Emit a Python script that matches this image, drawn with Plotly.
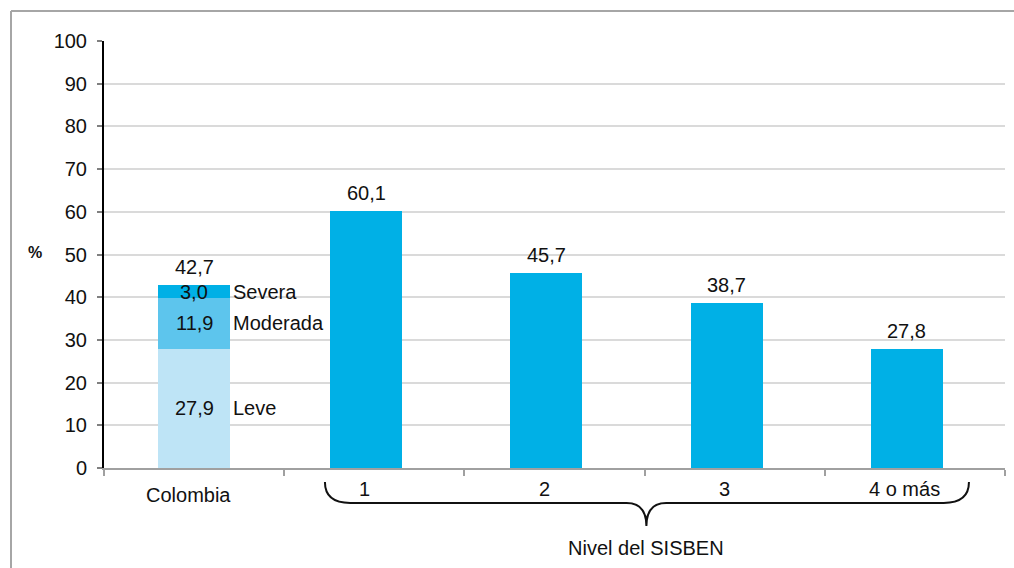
import plotly.graph_objects as go

# ---------------- data ----------------
categories = ["Colombia", "1", "2", "3", "4 o más"]
severity_names = ["Leve", "Moderada", "Severa"]
severity_values = [27.9, 11.9, 3.0]
colombia_total = 42.7
sisben_levels = ["1", "2", "3", "4 o más"]
sisben_values = [60.1, 45.7, 38.7, 27.8]
group_label = "Nivel del SISBEN"
y_ticks = [0, 10, 20, 30, 40, 50, 60, 70, 80, 90, 100]

# ---------------- style ----------------
W, H = 1014, 568
ML, MR, MT, MB = 104, 9, 41, 100
PW, PH = W - ML - MR, H - MT - MB
FONT = "Liberation Sans, Arial, sans-serif"
FS = 20
severity_colors = ["#BEE4F6", "#5DC5ED", "#00B0E6"]
main_color = "#00B0E6"
BAR_W = 0.4
MAIN_SHIFT = -0.045  # in category units


def fmt(v):
    return f"{v:.1f}".replace(".", ",")


def pxx(px):
    return (px - ML) / PW


def pxy(py):
    return (H - MB - py) / PH


def cat_x(i):
    return (i + 0.5) / len(categories)


def val_y(v):
    return v / 100.0


fig = go.Figure()

for name, val, col in zip(severity_names, severity_values, severity_colors):
    fig.add_trace(go.Bar(x=["Colombia"], y=[val], name=name, marker_color=col,
                         marker_line_width=0, width=BAR_W, offset=-BAR_W / 2,
                         hoverinfo="skip"))

fig.add_trace(go.Bar(x=sisben_levels, y=sisben_values, marker_color=main_color,
                     marker_line_width=0, width=BAR_W,
                     offset=-BAR_W / 2 + MAIN_SHIFT, hoverinfo="skip"))

annotations = []
cum = 0
for name, val in zip(severity_names, severity_values):
    mid = cum + val / 2
    cum += val
    annotations.append(dict(x="Colombia", y=mid, xref="x", yref="y", text=fmt(val),
                            showarrow=False, font=dict(size=FS, color="#111")))
    annotations.append(dict(x="Colombia", y=mid, xref="x", yref="y", text=name,
                            xanchor="left", xshift=37, showarrow=False,
                            font=dict(size=FS, color="#111")))
annotations.append(dict(x="Colombia", y=cum, xref="x", yref="y", text=fmt(colombia_total),
                        showarrow=False, yshift=18, font=dict(size=FS, color="#111")))
shift_px = MAIN_SHIFT * PW / len(categories)
for lvl, val in zip(sisben_levels, sisben_values):
    annotations.append(dict(x=lvl, y=val, xref="x", yref="y", text=fmt(val),
                            showarrow=False, yshift=18, xshift=shift_px,
                            font=dict(size=FS, color="#111")))

for i, c in enumerate(categories):
    if i == 0:
        annotations.append(dict(x=c, y=pxy(495), xref="x", yref="paper", text=c,
                                xanchor="center", yanchor="middle",
                                showarrow=False, xshift=-6, font=dict(size=FS, color="#111")))
    else:
        annotations.append(dict(x=c, y=pxy(489), xref="x", yref="paper", text=c,
                                xanchor="center", yanchor="middle",
                                showarrow=False, xshift=shift_px - 2,
                                font=dict(size=FS, color="#111")))

annotations.append(dict(x=cat_x(2.51), y=pxy(548), xref="paper", yref="paper",
                        xanchor="center", yanchor="middle",
                        text=group_label, showarrow=False, font=dict(size=FS, color="#111")))
annotations.append(dict(x=pxx(35), y=val_y(50), xref="paper", yref="paper",
                        xanchor="center", yanchor="middle",
                        text="<b>%</b>", showarrow=False, yshift=2,
                        font=dict(size=16, color="#111")))

# brace (category index units / value units)
x0, x1, xm = 0.726, 4.30, 2.51
yt, yl, ytip = -3.3, -8.2, -13.6
r, h = 0.14, 0.11
pts = [
    ("M", [(x0, yt)]),
    ("Q", [(x0, yl), (x0 + r, yl)]),
    ("L", [(xm - h, yl)]),
    ("Q", [(xm, yl), (xm, ytip)]),
    ("Q", [(xm, yl), (xm + h, yl)]),
    ("L", [(x1 - r, yl)]),
    ("Q", [(x1, yl), (x1, yt)]),
]
path = " ".join(
    cmd + " " + " ".join(f"{cat_x(a):.5f},{val_y(b):.5f}" for a, b in p) for cmd, p in pts
)

shapes = [
    dict(type="path", xref="paper", yref="paper", path=path,
         line=dict(color="#111", width=2)),
    dict(type="line", xref="paper", yref="paper",
         x0=pxx(11), x1=pxx(W + 5), y0=pxy(11), y1=pxy(11),
         line=dict(color="#A6A6A6", width=2), layer="below"),
    dict(type="line", xref="paper", yref="paper",
         x0=pxx(11), x1=pxx(11), y0=pxy(11), y1=pxy(H + 5),
         line=dict(color="#A6A6A6", width=2), layer="below"),
]

fig.update_layout(
    width=W, height=H,
    margin=dict(l=ML, r=MR, t=MT, b=MB),
    barmode="stack",
    showlegend=False,
    plot_bgcolor="white", paper_bgcolor="white",
    font=dict(family=FONT, size=FS, color="#111"),
    annotations=annotations,
    shapes=shapes,
    separators=",.",
    xaxis=dict(type="category", categoryorder="array", categoryarray=categories,
               range=[-0.5, len(categories) - 0.5],
               showline=True, linecolor="#A0A0A0", linewidth=2,
               ticks="outside", tickson="boundaries", ticklen=6,
               tickcolor="#A0A0A0", tickwidth=2, showticklabels=False,
               showgrid=False, fixedrange=True),
    yaxis=dict(range=[0, 100], tickvals=y_ticks, showline=True, linecolor="#000",
               linewidth=2, ticks="outside", ticklen=5, tickcolor="#808080",
               tickwidth=2, showgrid=True, gridcolor="#DADADA", gridwidth=1.5,
               zeroline=False, ticklabelstandoff=6,
               tickfont=dict(size=FS, color="#111"), fixedrange=True),
)

fig.write_html(
    "out.html",
    config={"displayModeBar": False},
    post_script="document.body.style.margin='0';document.body.style.overflow='hidden';",
)
